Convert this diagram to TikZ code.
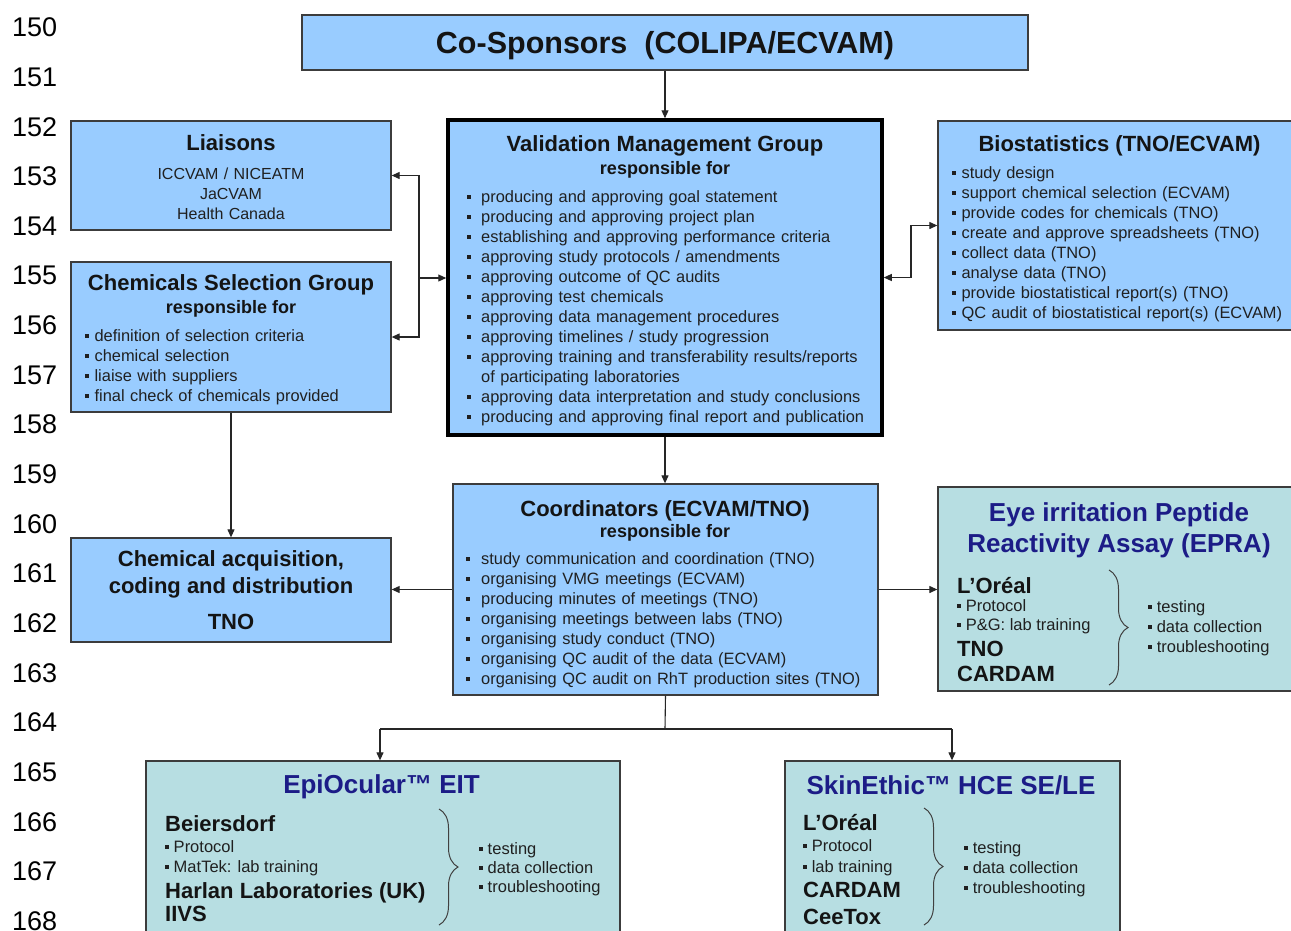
\documentclass[tikz,border=0pt]{standalone}
\usepackage{fontspec}
\setmainfont{Liberation Sans}
\usetikzlibrary{arrows.meta,decorations.pathreplacing,fit,calc}
\definecolor{boxblue}{RGB}{153,204,255}
\definecolor{boxteal}{RGB}{183,222,226}
\definecolor{titleblue}{RGB}{28,28,135}
\definecolor{edgec}{RGB}{60,60,60}
\definecolor{txtc}{RGB}{32,32,32}
\newcommand{\bul}{\raisebox{0.2em}{\rule{0.24em}{0.24em}}}
\newcommand{\vi}{\makebox[14pt][l]{\bul}}
\begin{document}
\begin{tikzpicture}[x=1pt,y=-1pt,
  bluebox/.style={draw=edgec,line width=1.3pt,fill=boxblue,inner sep=0pt},
  tealbox/.style={draw=edgec,line width=1.3pt,fill=boxteal,inner sep=0pt},
  vmgbox/.style={draw=black,line width=3.5pt,fill=boxblue,inner sep=0pt},
  ttl/.style={font=\fontsize{22}{26}\selectfont\bfseries,text=black!92,inner sep=0pt,anchor=base},
  resp/.style={font=\fontsize{18}{22}\selectfont\bfseries,text=black!92,inner sep=0pt,anchor=base},
  bigttl/.style={font=\fontsize{26}{31}\selectfont\bfseries,text=titleblue,inner sep=0pt,anchor=base},
  bodytxt/.style={font=\fontsize{16.5}{20}\selectfont,text=txtc,inner sep=0pt,anchor=base west},
  labname/.style={font=\fontsize{22}{26}\selectfont\bfseries,text=black!92,inner sep=0pt,anchor=base west},
  listnode/.style={font=\fontsize{16.4}{20}\selectfont,text=txtc,inner sep=0pt,anchor=base west,text width=#1,align=left},
  lnum/.style={font=\fontsize{27}{30}\selectfont,text=black,inner sep=0pt,anchor=base west},
  arr/.style={-{Triangle[length=8pt,width=7pt]},line width=1.1pt,draw=black!85},
  conn/.style={line width=1.1pt,draw=black!85},
  bracestyle/.style={draw=black!75,line width=1pt,decorate,decoration={brace,amplitude=19pt,aspect=#1}},
]
\useasboundingbox (0,0) rectangle (1291,930);
\fill[white] (0,0) rectangle (1291,930);

% line numbers
\foreach \n [count=\i from 0] in {150,...,168}{
  \node[lnum] (ln\n) at (12,{27+49.65*\i+9.7}) {\n};
}

% boxes
\node[bluebox,fit={(302,15) (1028,70)}] (cosp) {};
\node[vmgbox,fit={(448,120) (882,435)}] (vmg) {};
\node[bluebox,fit={(71,121) (391,230)}] (liais) {};
\node[bluebox,fit={(71,262) (391,412)}] (csg) {};
\node[bluebox,fit={(938,121) (1300,330)}] (bio) {};
\node[bluebox,fit={(453,484) (878,695)}] (coord) {};
\node[bluebox,fit={(71,538) (391,642)}] (chem) {};
\node[tealbox,fit={(938,487) (1300,691)}] (epra) {};
\node[tealbox,fit={(146,761) (620,945)}] (epi) {};
\node[tealbox,fit={(785,761) (1120,945)}] (skin) {};

% Co-sponsors
\node[font=\fontsize{30.5}{34}\selectfont\bfseries,text=black!92,inner sep=0pt,anchor=base] (cosptxt) at (665,53) {Co-Sponsors\ \ (COLIPA/ECVAM)};

% VMG
\node[ttl] (vmgt) at (665,151) {Validation Management Group};
\node[resp] (vmgr) at (665,174.5) {responsible for};
\node[listnode=420pt] (vmgl) at (467,202) {%
\vi producing and approving goal statement\\
\vi producing and approving project plan\\
\vi establishing and approving performance criteria\\
\vi approving study protocols / amendments\\
\vi approving outcome of QC audits\\
\vi approving test chemicals\\
\vi approving data management procedures\\
\vi approving timelines / study progression\\
\vi approving training and transferability results/reports\\
\hspace*{14pt}of participating laboratories\\
\vi approving data interpretation and study conclusions\\
\vi producing and approving final report and publication};

% Liaisons
\node[ttl] (liaist) at (231,150) {Liaisons};
\node[font=\fontsize{16}{20}\selectfont,text=txtc,inner sep=0pt,anchor=base,text width=300pt,align=center] (liaisl) at (231,179) {ICCVAM / NICEATM\\JaCVAM\\Health Canada};

% CSG
\node[ttl] (csgt) at (231,290) {Chemicals Selection Group};
\node[resp] (csgr) at (231,313.5) {responsible for};
\node[listnode=300pt] (csgl) at (85,341) {%
\bul\ definition of selection criteria\\
\bul\ chemical selection\\
\bul\ liaise with suppliers\\
\bul\ final check of chemicals provided};

% Biostatistics
\node[ttl] (biot) at (1119.5,151) {Biostatistics (TNO/ECVAM)};
\node[listnode=340pt] (biol) at (952,178) {%
\bul\ study design\\
\bul\ support chemical selection (ECVAM)\\
\bul\ provide codes for chemicals (TNO)\\
\bul\ create and approve spreadsheets (TNO)\\
\bul\ collect data (TNO)\\
\bul\ analyse data (TNO)\\
\bul\ provide biostatistical report(s) (TNO)\\
\bul\ QC audit of biostatistical report(s) (ECVAM)};

% Coordinators
\node[ttl] (coordt) at (665,516) {Coordinators (ECVAM/TNO)};
\node[resp] (coordr) at (665,537.5) {responsible for};
\node[listnode=410pt] (coordl) at (466,564) {%
\makebox[15pt][l]{\bul}study communication and coordination (TNO)\\
\makebox[15pt][l]{\bul}organising VMG meetings (ECVAM)\\
\makebox[15pt][l]{\bul}producing minutes of meetings (TNO)\\
\makebox[15pt][l]{\bul}organising meetings between labs (TNO)\\
\makebox[15pt][l]{\bul}organising study conduct (TNO)\\
\makebox[15pt][l]{\bul}organising QC audit of the data (ECVAM)\\
\makebox[15pt][l]{\bul}organising QC audit on RhT production sites (TNO)};

% Chemical acquisition
\node[ttl] (chem1) at (231,566) {Chemical acquisition,};
\node[ttl] (chem2) at (231,593) {coding and distribution};
\node[ttl] (chem3) at (231,629) {TNO};

% EPRA
\node[bigttl] (epra1) at (1119,521) {Eye irritation Peptide};
\node[bigttl] (epra2) at (1119,552) {Reactivity Assay (EPRA)};
\node[labname] (epran1) at (957,593) {L’Oréal};
\node[bodytxt] (epraa) at (957,611) {\bul\ Protocol};
\node[bodytxt] (eprab) at (957,630) {\bul\ P\&G: lab training};
\node[labname] (epran2) at (957,656) {TNO};
\node[labname] (epran3) at (957,681) {CARDAM};
\coordinate (eprabr1) at (1109,570);
\coordinate (eprabr2) at (1109,685);
\draw[bracestyle=0.5] (eprabr1) -- (eprabr2);
\node[bodytxt] (eprar1) at (1148,612) {\bul\ testing};
\node[bodytxt] (eprar2) at (1148,632) {\bul\ data collection};
\node[bodytxt] (eprar3) at (1148,652) {\bul\ troubleshooting};

% EpiOcular
\node[bigttl] (epit) at (381.5,793) {EpiOcular™ EIT};
\node[labname] (epin1) at (165,831) {Beiersdorf};
\node[bodytxt] (epia) at (165,852) {\bul\ Protocol};
\node[bodytxt] (epib) at (165,872) {\bul\ MatTek: lab training};
\node[labname] (epin2) at (165,898) {Harlan Laboratories (UK)};
\node[labname] (epin3) at (165,921) {IIVS};
\coordinate (epibr1) at (439,809);
\coordinate (epibr2) at (439,925);
\draw[bracestyle=0.5] (epibr1) -- (epibr2);
\node[bodytxt] (epir1) at (479,854) {\bul\ testing};
\node[bodytxt] (epir2) at (479,873) {\bul\ data collection};
\node[bodytxt] (epir3) at (479,892) {\bul\ troubleshooting};

% SkinEthic
\node[bigttl] (skint) at (951,794) {SkinEthic™ HCE SE/LE};
\node[labname] (skinn1) at (803,830) {L’Oréal};
\node[bodytxt] (skina) at (803,851) {\bul\ Protocol};
\node[bodytxt] (skinb) at (803,872) {\bul\ lab training};
\node[labname] (skinn2) at (803,897) {CARDAM};
\node[labname] (skinn3) at (803,924) {CeeTox};
\coordinate (skinbr1) at (924,808);
\coordinate (skinbr2) at (924,925);
\draw[bracestyle=0.5] (skinbr1) -- (skinbr2);
\node[bodytxt] (skinr1) at (964,853) {\bul\ testing};
\node[bodytxt] (skinr2) at (964,873) {\bul\ data collection};
\node[bodytxt] (skinr3) at (964,893) {\bul\ troubleshooting};

% connectors
\draw[arr] (cosp.south) -- (cosp.south |- vmg.north);
\draw[arr] (vmg.south) -- (vmg.south |- coord.north);

\coordinate (jl) at (419,278);
\draw[arr] (jl) -- (vmg.west |- jl);
\draw[arr] (jl) |- (liais.east);
\draw[arr] (jl) |- (csg.east);

\coordinate (jb) at (911,252);
\draw[arr] (jb) |- (bio.west);
\draw[arr] (jb) |- (vmg.east);

\draw[arr] (csg.south) -- (chem.north);
\draw[arr] (coord.west) -- (coord.west -| chem.east);
\draw[arr] (coord.east) -- (coord.east -| epra.west);

\coordinate (jc) at (665,729);
\coordinate (je) at (380,729);
\coordinate (js) at (952,729);
\draw[conn] (coord.south) -- (jc);
\draw[conn] (je) -- (js);
\draw[arr] (je) -- (je |- epi.north);
\draw[arr] (js) -- (js |- skin.north);
\end{tikzpicture}
\end{document}
